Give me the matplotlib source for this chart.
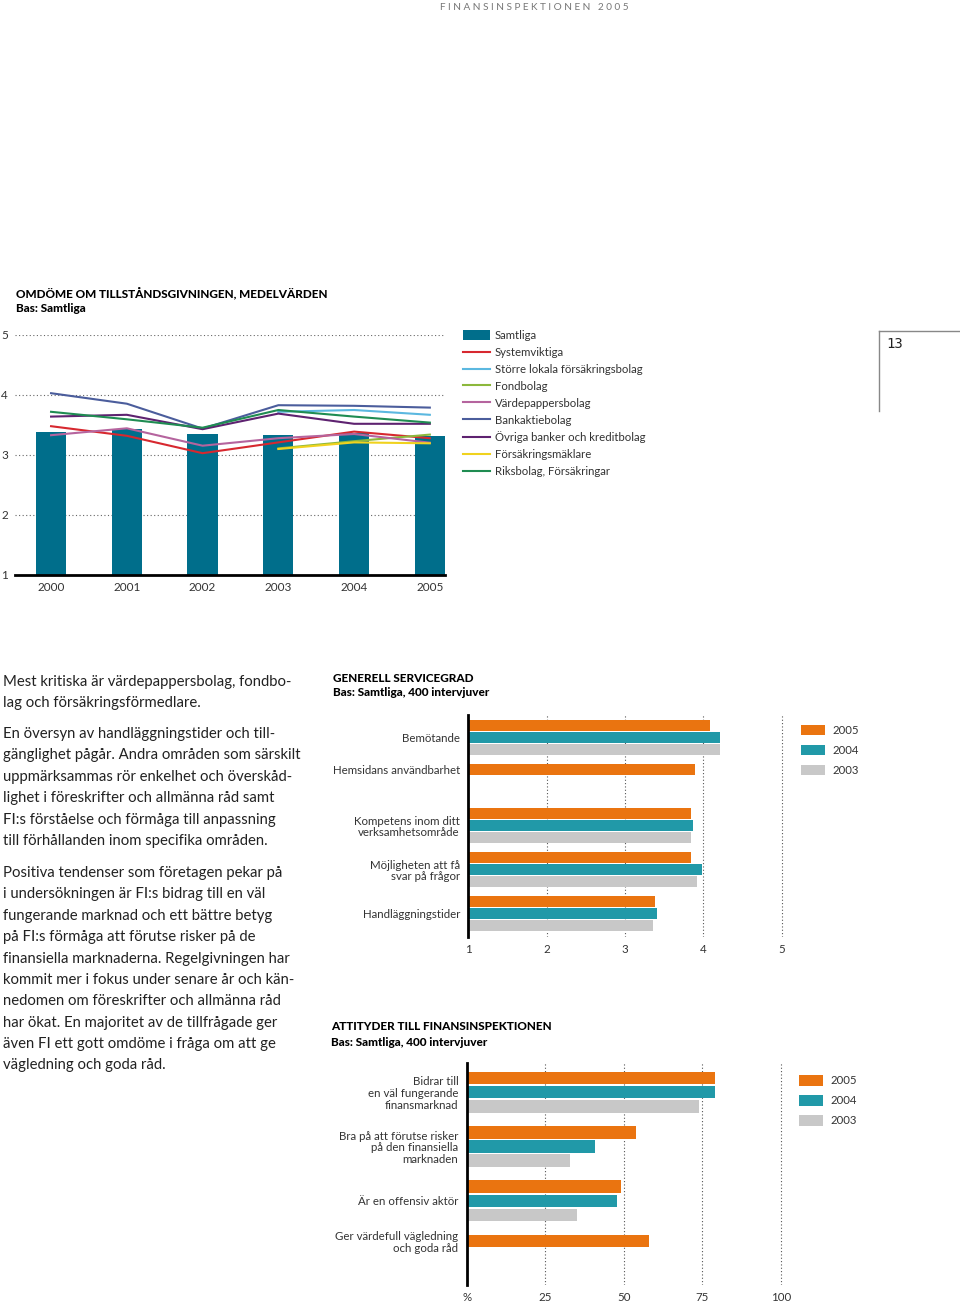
import matplotlib
matplotlib.use('Agg')
import matplotlib.pyplot as plt
from matplotlib.lines import Line2D
import numpy as np

nan = np.nan

# ---------------- data ----------------
years = ['2000', '2001', '2002', '2003', '2004', '2005']
samtliga = [3.39, 3.43, 3.345, 3.33, 3.37, 3.32]
systemviktiga = [3.48, 3.32, 3.03, 3.21, 3.39, 3.28]
storre_lokala = [nan, nan, nan, 3.72, 3.75, 3.67]
fondbolag = [nan, nan, nan, 3.11, 3.23, 3.34]
vardepappersbolag = [3.33, 3.445, 3.155, 3.28, 3.35, 3.205]
bankaktiebolag = [4.03, 3.855, 3.44, 3.83, 3.82, 3.79]
ovriga_banker = [3.64, 3.67, 3.43, 3.69, 3.52, 3.52]
forsakringsmaklare = [nan, nan, nan, 3.10, 3.21, 3.195]
riksbolag = [3.72, 3.595, 3.455, 3.75, 3.64, 3.54]

line_names = ['Systemviktiga', 'Större lokala försäkringsbolag', 'Fondbolag',
              'Värdepappersbolag', 'Bankaktiebolag', 'Övriga banker och kreditbolag',
              'Försäkringsmäklare', 'Riksbolag, Försäkringar']
line_values = [systemviktiga, storre_lokala, fondbolag, vardepappersbolag,
               bankaktiebolag, ovriga_banker, forsakringsmaklare, riksbolag]
line_colors = ['#d7282f', '#5bb8e0', '#8cb83c', '#b5649e', '#4b5d9c', '#5e2270',
               '#f0d21e', '#1f8c52']

service_cats = ['Bemötande', 'Hemsidans användbarhet',
                'Kompetens inom ditt\nverksamhetsområde',
                'Möjligheten att få\nsvar på frågor', 'Handläggningstider']
service_2005 = [4.09, 3.90, 3.85, 3.85, 3.39]
service_2004 = [4.22, nan, 3.865, 3.99, 3.415]
service_2003 = [4.21, nan, 3.85, 3.925, 3.36]

att_cats = ['Bidrar till\nen väl fungerande\nfinansmarknad',
            'Bra på att förutse risker\npå den finansiella\nmarknaden',
            'Är en offensiv aktör',
            'Ger värdefull vägledning\noch goda råd']
att_2005 = [79, 54, 49, 58]
att_2004 = [79, 41, 48, nan]
att_2003 = [74, 33, 35, nan]

bar_years = ['2005', '2004', '2003']
bar_colors = ['#ea7410', '#2199a8', '#c8c8c8']
samtliga_color = '#006e8b'

# ---------------- figure ----------------
W, H = 960, 1305
plt.rcParams['font.family'] = ['Lato', 'DejaVu Sans']
fig = plt.figure(figsize=(W / 100, H / 100), dpi=100)


def ax_px(l, t, r, b):
    return fig.add_axes([l / W, 1 - b / H, (r - l) / W, (b - t) / H])


def T(x, y, s, **kw):
    return fig.text(x / W, 1 - y / H, s, **kw)


TXT = '#222222'

# header
T(440, 7, 'F I N A N S I N S P E K T I O N E N   2 0 0 5', fontsize=7.2,
  color='#777777', va='center', ha='left')

# page number box
fig.add_artist(Line2D([879 / W, 879 / W], [1 - 331 / H, 1 - 411 / H], color='#888888', lw=1))
fig.add_artist(Line2D([879 / W, 1.0], [1 - 331 / H, 1 - 331 / H], color='#888888', lw=1))
T(886, 344, '13', fontsize=10, family='DejaVu Sans Mono', color=TXT, va='center')

# ---------------- top chart ----------------
T(16, 293, 'OMDÖME OM TILLSTÅNDSGIVNINGEN, MEDELVÄRDEN', fontsize=8.5,
  weight='black', color='black', va='center')
T(16, 308, 'Bas: Samtliga', fontsize=8.5, weight='black', color='black', va='center')

ax1 = ax_px(15, 335, 445, 575)
x = np.arange(len(years))
bars = ax1.bar(x, samtliga, width=0.4, color=samtliga_color, zorder=2, label='Samtliga')
handles = [bars]
for vals, col, name in zip(line_values, line_colors, line_names):
    ln, = ax1.plot(x, vals, color=col, lw=1.5, zorder=3, label=name)
    handles.append(ln)
ax1.set_ylim(1, 5)
ax1.set_xlim(-0.476, 5.2)
ax1.set_yticks([1, 2, 3, 4, 5])
ax1.set_xticks(x)
ax1.set_xticklabels(years)
for s in ['left', 'right', 'top']:
    ax1.spines[s].set_visible(False)
ax1.spines['bottom'].set_linewidth(2)
ax1.spines['bottom'].set_zorder(4)
ax1.tick_params(axis='both', length=0, labelsize=8.5, colors='#333333')
ax1.tick_params(axis='y', pad=5)
ax1.tick_params(axis='x', pad=5)
ax1.yaxis.grid(True, linestyle=(0, (1, 2.2)), color='#666666', lw=0.8, zorder=0)
ax1.set_axisbelow(True)
ax1.legend(handles=handles, loc='upper left', bbox_to_anchor=(463 / W, 1 - 330 / H),
           bbox_transform=fig.transFigure, frameon=False, fontsize=8.2,
           handlelength=2.4, handleheight=0.9, handletextpad=0.4, labelspacing=0.52,
           borderpad=0, borderaxespad=0, labelcolor='#333333')

# ---------------- body text ----------------
body = [
    (686, 'Mest kritiska är värdepappersbolag, fondbo-'),
    (707, 'lag och försäkringsförmedlare.'),
    (738, 'En översyn av handläggningstider och till-'),
    (759, 'gänglighet pågår. Andra områden som särskilt'),
    (781, 'uppmärksammas rör enkelhet och överskåd-'),
    (802, 'lighet i föreskrifter och allmänna råd samt'),
    (824, 'FI:s förståelse och förmåga till anpassning'),
    (845, 'till förhållanden inom specifika områden.'),
    (877, 'Positiva tendenser som företagen pekar på'),
    (898, 'i undersökningen är FI:s bidrag till en väl'),
    (920, 'fungerande marknad och ett bättre betyg'),
    (941, 'på FI:s förmåga att förutse risker på de'),
    (963, 'finansiella marknaderna. Regelgivningen har'),
    (984, 'kommit mer i fokus under senare år och kän-'),
    (1005, 'nedomen om föreskrifter och allmänna råd'),
    (1027, 'har ökat. En majoritet av de tillfrågade ger'),
    (1048, 'även FI ett gott omdöme i fråga om att ge'),
    (1069, 'vägledning och goda råd.'),
]
for yy, s in body:
    T(3, yy, s, fontsize=10.7, color=TXT, va='baseline', ha='left')


# ---------------- horizontal bar charts ----------------
def hbar_chart(ax, cats, series, pitch, h, xlim, label_fs=8.3):
    ypos_labels = []
    for i in range(len(cats)):
        present = [k for k, vals in enumerate(series) if not np.isnan(vals[i])]
        mid = 1 if len(present) > 1 else 0
        ypos_labels.append(i + mid * pitch + h / 2)
    for k, (vals, col) in enumerate(zip(series, bar_colors)):
        ys = [i + k * pitch + h / 2 for i, v in enumerate(vals) if not np.isnan(v)]
        ws = [v for v in vals if not np.isnan(v)]
        ax.barh(ys, ws, height=h, color=col, zorder=2, label=bar_years[k])
    ax.set_xlim(*xlim)
    ax.set_yticks(ypos_labels)
    ax.set_yticklabels(cats)
    for lab in ax.get_yticklabels():
        lab.set_linespacing(1.1)
    for s in ['right', 'top', 'bottom']:
        ax.spines[s].set_visible(False)
    ax.spines['left'].set_linewidth(2)
    ax.spines['left'].set_zorder(4)
    ax.tick_params(axis='both', length=0, labelsize=label_fs, colors='#333333')
    ax.tick_params(axis='y', pad=6)
    ax.tick_params(axis='x', pad=5)
    ax.xaxis.grid(True, linestyle=(0, (1, 2)), color='#555555', lw=0.8, zorder=0)
    ax.set_axisbelow(True)


# middle chart
T(333, 679, 'GENERELL SERVICEGRAD', fontsize=8.5, weight='black', color='black', va='center')
T(333, 693, 'Bas: Samtliga, 400 intervjuver', fontsize=8.5, weight='black', color='black',
  va='center')
ax2 = ax_px(468.3, 715, 468.3 + 4.05 * 78.3, 937)
hbar_chart(ax2, service_cats, [service_2005, service_2004, service_2003],
           pitch=0.2727, h=0.25, xlim=(1, 5.05))
ax2.set_ylim(4.93, -0.114)
ax2.set_xticks([1, 2, 3, 4, 5])
ax2.legend(loc='upper left', bbox_to_anchor=(801 / W, 1 - 725 / H),
           bbox_transform=fig.transFigure, frameon=False, fontsize=8.2,
           handlelength=2.1, handleheight=1.0, handletextpad=0.7, labelspacing=0.78,
           borderpad=0, borderaxespad=0, labelcolor='#333333')

# bottom chart
T(331, 1027, 'ATTITYDER TILL FINANSINSPEKTIONEN', fontsize=8.5, weight='black',
  color='black', va='center')
T(331, 1042, 'Bas: Samtliga, 400 intervjuver', fontsize=8.5, weight='black', color='black',
  va='center')
ax3 = ax_px(466.7, 1063, 466.7 + 102 * 3.14, 1285)
hbar_chart(ax3, att_cats, [att_2005, att_2004, att_2003],
           pitch=0.2615, h=0.232, xlim=(0, 102))
ax3.set_ylim(3.928, -0.16)
ax3.set_xticks([0, 25, 50, 75, 100])
ax3.set_xticklabels(['%', '25', '50', '75', '100'])
ax3.legend(loc='upper left', bbox_to_anchor=(799 / W, 1 - 1075 / H),
           bbox_transform=fig.transFigure, frameon=False, fontsize=8.2,
           handlelength=2.1, handleheight=1.1, handletextpad=0.7, labelspacing=0.75,
           borderpad=0, borderaxespad=0, labelcolor='#333333')

fig.savefig('out.png', dpi=100)
